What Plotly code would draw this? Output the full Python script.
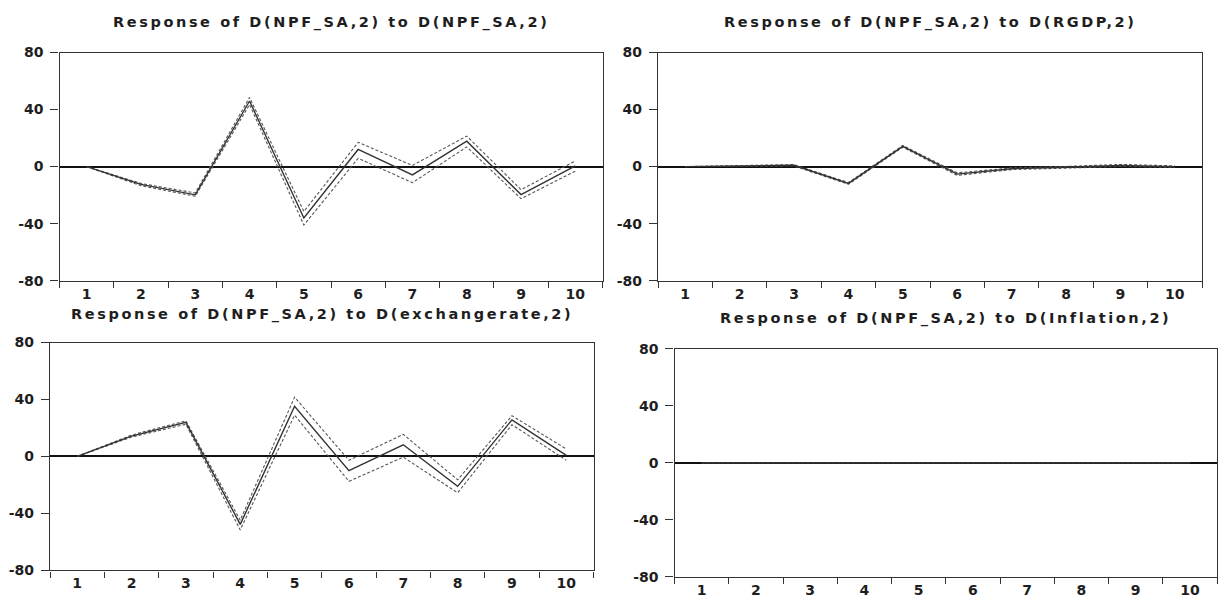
import plotly.graph_objects as go

# ---------------- data ----------------
periods = ["1", "2", "3", "4", "5", "6", "7", "8", "9", "10"]

titles = [
    "Response of D(NPF_SA,2) to D(NPF_SA,2)",
    "Response of D(NPF_SA,2) to D(RGDP,2)",
    "Response of D(NPF_SA,2) to D(exchangerate,2)",
    "Response of D(NPF_SA,2) to D(Inflation,2)",
]

npf_resp = [0, -12.5, -19.8, 46.0, -36.0, 12.0, -5.8, 17.8, -19.6, 0.5]
npf_upper = [0, -11.8, -18.5, 48.5, -31.5, 17.0, 0.8, 21.4, -16.2, 4.0]
npf_lower = [0, -13.4, -20.8, 43.5, -41.0, 5.8, -11.3, 13.8, -22.5, -3.2]

rgdp_resp = [0, 0.4, 0.9, -11.8, 14.2, -5.3, -1.5, -0.5, 0.8, 0.0]
rgdp_upper = [0, 0.8, 1.4, -11.2, 14.8, -4.4, -0.9, 0.1, 1.5, 0.5]
rgdp_lower = [0, 0.0, 0.4, -12.4, 13.6, -6.2, -2.1, -1.1, 0.1, -0.5]

exch_resp = [0, 14.3, 23.9, -47.7, 35.2, -10.0, 8.2, -21.0, 25.7, 0.7]
exch_upper = [0, 15.0, 25.0, -44.8, 41.6, -2.7, 15.5, -16.4, 28.6, 5.2]
exch_lower = [0, 13.6, 22.6, -51.6, 29.0, -17.5, -0.5, -25.5, 22.3, -2.7]

infl_resp = [0, 0, 0, 0, 0, 0, 0, 0, 0, 0]
infl_upper = [0, 0, 0, 0, 0, 0, 0, 0, 0, 0]
infl_lower = [0, 0, 0, 0, 0, 0, 0, 0, 0, 0]

y_ticks = [-80, -40, 0, 40, 80]

# ---------------- layout geometry (pixels) ----------------
W, H = 1224, 611
panels = [
    # (left, right, top, bottom, title_y)
    (59.5, 602.5, 45.7, 280.0, 15),
    (658.0, 1202.0, 45.7, 280.0, 15),
    (50.0, 593.5, 343.5, 577.5, 315),
    (674.5, 1217.0, 350.0, 584.0, 319),
]
series = [
    (npf_resp, npf_upper, npf_lower),
    (rgdp_resp, rgdp_upper, rgdp_lower),
    (exch_resp, exch_upper, exch_lower),
    (infl_resp, infl_upper, infl_lower),
]

FONT = "DejaVu Sans"
TXT = "#1e1e1e"
FRAME = "#333333"

fig = go.Figure()
annotations = []
layout_axes = {}

for i, ((l, r, t, b, ty), (resp, up, lo), title) in enumerate(zip(panels, series, titles)):
    n = i + 1
    xa = "x" if n == 1 else f"x{n}"
    ya = "y" if n == 1 else f"y{n}"
    for vals, dash, color, width in (
        (up, "3px,2px", "#555555", 1.1),
        (lo, "3px,2px", "#555555", 1.1),
        (resp, "solid", "#333333", 1.4),
    ):
        fig.add_trace(go.Scatter(
            x=periods, y=vals, mode="lines", xaxis=xa, yaxis=ya,
            line=dict(color=color, width=width, dash=dash),
            showlegend=False, hoverinfo="skip",
        ))
    xkey = "xaxis" if n == 1 else f"xaxis{n}"
    ykey = "yaxis" if n == 1 else f"yaxis{n}"
    layout_axes[xkey] = dict(
        domain=[l / W, r / W], anchor=ya, type="category",
        categoryorder="array", categoryarray=periods,
        range=[-0.5, len(periods) - 0.5], autorange=False,
        tickson="boundaries", ticks="outside", ticklen=6, tickwidth=1.2,
        tickcolor=FRAME, showline=True, linecolor=FRAME, linewidth=1.3,
        mirror=True, showgrid=False, zeroline=False,
        tickfont=dict(family=FONT, size=14, color=TXT, weight="bold"),
        fixedrange=True,
    )
    layout_axes[ykey] = dict(
        domain=[1 - b / H, 1 - t / H], anchor=xa, range=[-80, 80],
        tickmode="array", tickvals=y_ticks, ticktext=[str(v) for v in y_ticks],
        ticks="outside", ticklen=8, tickwidth=1.2, tickcolor=FRAME,
        ticklabelstandoff=4,
        showline=True, linecolor=FRAME, linewidth=1.3, mirror=True,
        showgrid=False, zeroline=True, zerolinecolor="#111111", zerolinewidth=1.7,
        tickfont=dict(family=FONT, size=14, color=TXT, weight="bold"),
        fixedrange=True,
    )
    annotations.append(dict(
        text=f"<span style='letter-spacing:2.6px'>{title}</span>",
        x=(l + r) / 2 / W, y=1 - ty / H, xref="paper", yref="paper",
        xanchor="center", yanchor="middle", showarrow=False,
        font=dict(family=FONT, size=14.5, color=TXT, weight="bold"),
    ))

fig.update_layout(
    width=W, height=H, margin=dict(l=0, r=0, t=0, b=0),
    paper_bgcolor="white", plot_bgcolor="white",
    annotations=annotations, **layout_axes,
)

fig.write_html("out.html", config={"displayModeBar": False})
